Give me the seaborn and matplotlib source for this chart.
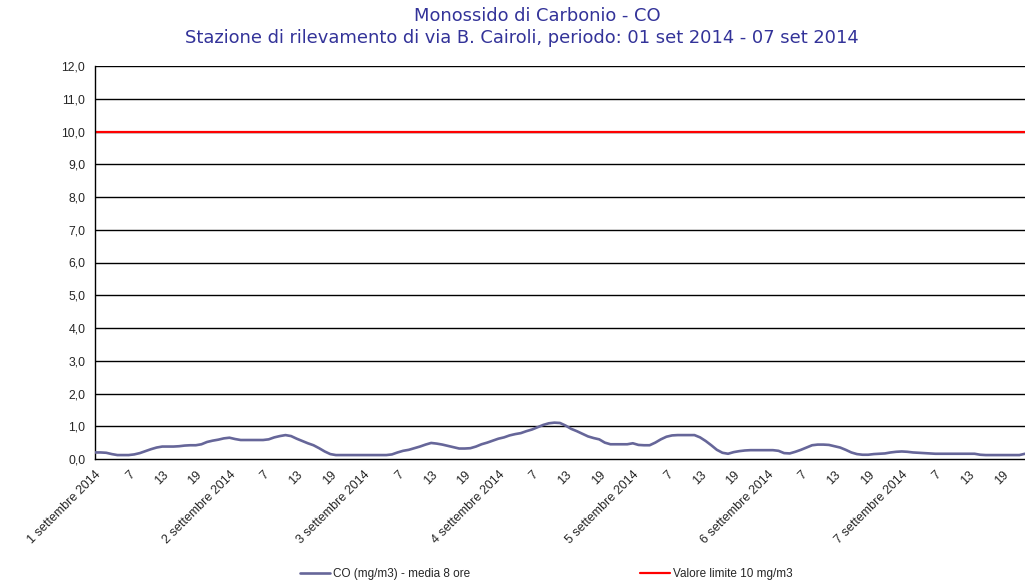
"""Monossido di Carbonio - media mobile 8 ore, via B. Cairoli, 1-7 set 2014."""

import matplotlib

matplotlib.use("Agg")
import matplotlib.pyplot as plt
import numpy as np
import seaborn as sns

# hourly 8h-mean CO (mg/m3), one list per day
DAY_1 = [0.20, 0.20, 0.19, 0.15, 0.12, 0.12, 0.12, 0.14, 0.18, 0.24, 0.30, 0.35,
         0.38, 0.38, 0.38, 0.39, 0.41, 0.42, 0.42, 0.45, 0.52, 0.56, 0.59, 0.63]
DAY_2 = [0.65, 0.61, 0.58, 0.58, 0.58, 0.58, 0.58, 0.60, 0.66, 0.70, 0.73, 0.70,
         0.62, 0.55, 0.48, 0.42, 0.33, 0.23, 0.15, 0.12, 0.12, 0.12, 0.12, 0.12]
DAY_3 = [0.12, 0.12, 0.12, 0.12, 0.12, 0.14, 0.20, 0.25, 0.28, 0.33, 0.38, 0.44,
         0.49, 0.47, 0.44, 0.40, 0.36, 0.32, 0.32, 0.33, 0.38, 0.45, 0.50, 0.56]
DAY_4 = [0.62, 0.66, 0.72, 0.76, 0.79, 0.85, 0.90, 0.97, 1.04, 1.09, 1.11, 1.10,
         1.02, 0.92, 0.85, 0.77, 0.69, 0.64, 0.60, 0.50, 0.45, 0.45, 0.45, 0.45]
DAY_5 = [0.48, 0.43, 0.42, 0.42, 0.50, 0.60, 0.68, 0.72, 0.73, 0.73, 0.73, 0.73,
         0.66, 0.55, 0.42, 0.28, 0.19, 0.16, 0.21, 0.24, 0.26, 0.27, 0.27, 0.27]
DAY_6 = [0.27, 0.27, 0.25, 0.18, 0.17, 0.22, 0.28, 0.35, 0.42, 0.44, 0.44, 0.43,
         0.39, 0.35, 0.28, 0.20, 0.15, 0.13, 0.13, 0.15, 0.16, 0.17, 0.20, 0.22]
DAY_7 = [0.23, 0.22, 0.20, 0.19, 0.18, 0.17, 0.16, 0.16, 0.16, 0.16, 0.16, 0.16,
         0.16, 0.16, 0.13, 0.12, 0.12, 0.12, 0.12, 0.12, 0.12, 0.12, 0.16]

LIMIT = 10.0
DAY_LABELS = [f"{d} settembre 2014" for d in range(1, 8)]
HOUR_LABELS = ["7", "13", "19"]
Y_TICKS = list(range(0, 13))

TITLE_1 = "Monossido di Carbonio - CO"
TITLE_2 = "Stazione di rilevamento di via B. Cairoli, periodo: 01 set 2014 - 07 set 2014"

CO_LABEL = "CO (mg/m3) - media 8 ore"
LIMIT_LABEL = "Valore limite 10 mg/m3"


def main() -> None:
    co = DAY_1 + DAY_2 + DAY_3 + DAY_4 + DAY_5 + DAY_6 + DAY_7
    hours = np.arange(len(co))

    sns.set_style("white")
    plt.rcParams["font.family"] = ["Liberation Sans", "DejaVu Sans"]

    fig = plt.figure(figsize=(10.25, 5.82), dpi=100)
    ax = fig.add_axes([95 / 1025, 1 - 459 / 582, 930 / 1025, 393 / 582])

    for y in Y_TICKS[1:]:
        ax.axhline(y, color="black", lw=1.0, zorder=1)
    ax.axhline(LIMIT, color="#ff0000", lw=1.6, zorder=2, label=LIMIT_LABEL)
    sns.lineplot(x=hours, y=co, ax=ax, color="#666699", lw=1.9, zorder=3,
                 label=CO_LABEL)

    ax.set_xlim(0, 166)
    ax.set_ylim(0, 12)
    ax.set_yticks(Y_TICKS)
    ax.set_yticklabels([f"{v:.1f}".replace(".", ",") for v in Y_TICKS], fontsize=8.8)

    ticks, labels = [], []
    for day, day_label in enumerate(DAY_LABELS):
        for k, lab in enumerate([day_label] + HOUR_LABELS):
            pos = day * 24 + k * 6
            if pos <= 166:
                ticks.append(pos)
                labels.append(lab)
    ax.set_xticks(ticks)
    ax.set_xticklabels(labels, rotation=45, ha="right", rotation_mode="anchor",
                       fontsize=9)
    ax.tick_params(axis="x", direction="out", length=4, width=1, color="black", pad=3)
    ax.tick_params(axis="y", length=0, pad=7)
    ax.set_xlabel("")
    ax.set_ylabel("")

    for side in ("top", "right"):
        ax.spines[side].set_visible(False)
    for side in ("left", "bottom"):
        ax.spines[side].set_color("black")
        ax.spines[side].set_linewidth(1.0)

    title_font = dict(ha="center", va="baseline", fontsize=12.9, color="#333399",
                      family="DejaVu Sans")
    fig.text(537 / 1025, 1 - 21 / 582, TITLE_1, **title_font)
    fig.text(522 / 1025, 1 - 43 / 582, TITLE_2, **title_font)

    handles, leg_labels = ax.get_legend_handles_labels()
    order = [leg_labels.index(CO_LABEL), leg_labels.index(LIMIT_LABEL)]
    if ax.get_legend():
        ax.get_legend().remove()
    fig.legend([handles[i] for i in order], [leg_labels[i] for i in order],
               loc="center", bbox_to_anchor=(0.533, 1 - 574 / 582), ncol=2,
               frameon=False, fontsize=8.5, handlelength=2.55, handletextpad=0.25,
               columnspacing=14.4, borderpad=0, borderaxespad=0)

    fig.savefig("out.png", dpi=100)
    plt.close(fig)


if __name__ == "__main__":
    main()
